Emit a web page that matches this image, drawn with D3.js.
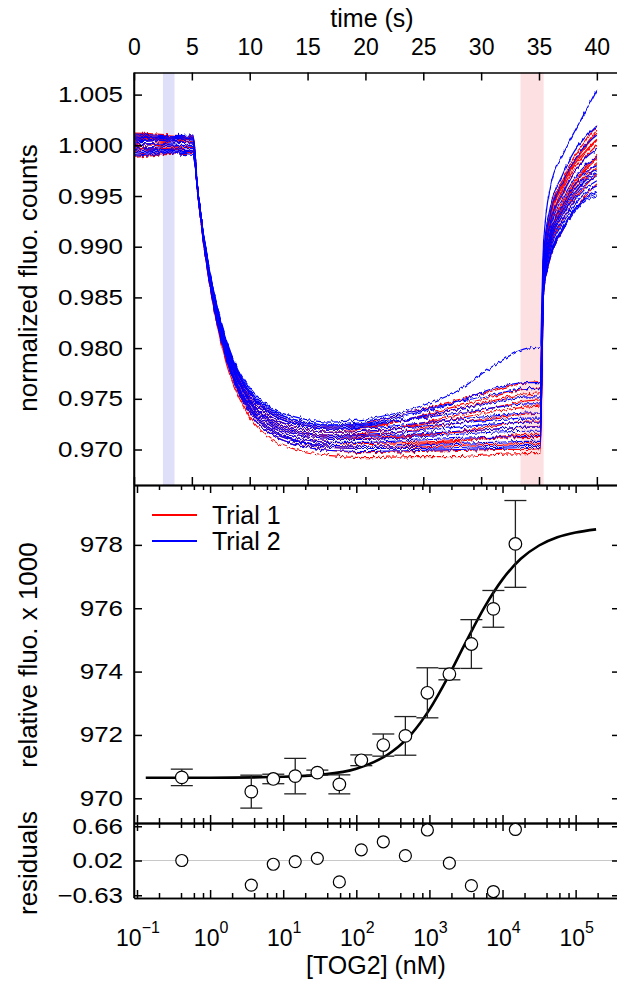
<!DOCTYPE html>
<html><head><meta charset="utf-8">
<script src="https://cdn.jsdelivr.net/npm/d3@7"></script>
<style>
body{margin:0;background:#fff}
svg{display:block}
text{font-family:"Liberation Sans",Arial,Helvetica,sans-serif;fill:#000}
</style>
</head><body>
<svg id="c" width="617" height="981"></svg>
<script>
// ---------------- DATA ----------------
// top panel: time traces (s) and normalized fluorescence counts
const traceTimes = [0, 5.1, 5.5, 6, 7, 8, 9, 10, 12, 14, 17, 20, 24, 28, 31, 34, 35.1, 35.4, 36, 37, 38, 39, 40];
const trial1Traces = [
  [1.0005,1.0002,.9953,.9904,.9832,.9784,.9753,.9732,.9709,.9700,.9694,.9692,.9693,.9693,.9695,.9696,.9696,.9855,.9890,.9915,.9935,.9950,.9962],
  [.9995,.9998,.9953,.9905,.9834,.9788,.9757,.9736,.9714,.9705,.9699,.9697,.9698,.9699,.9700,.9700,.9701,.9862,.9898,.9925,.9945,.9960,.9972],
  [1.0010,1.0006,.9954,.9906,.9836,.9790,.9759,.9739,.9717,.9708,.9702,.9701,.9702,.9704,.9705,.9706,.9706,.9866,.9903,.9930,.9950,.9966,.9978],
  [.9990,.9993,.9955,.9908,.9839,.9793,.9763,.9743,.9722,.9712,.9707,.9706,.9707,.9709,.9711,.9712,.9712,.9870,.9910,.9938,.9958,.9975,.9988],
  [1.0000,1.0004,.9955,.9909,.9841,.9797,.9767,.9748,.9726,.9717,.9712,.9711,.9714,.9717,.9720,.9722,.9723,.9874,.9915,.9943,.9963,.9978,.9990],
  [1.0008,1.0003,.9956,.9910,.9842,.9798,.9769,.9749,.9728,.9719,.9714,.9714,.9719,.9726,.9731,.9735,.9736,.9878,.9923,.9950,.9972,.9988,1.0000],
  [.9993,.9997,.9956,.9911,.9844,.9800,.9771,.9752,.9731,.9722,.9717,.9718,.9723,.9731,.9737,.9742,.9743,.9880,.9925,.9955,.9976,.9992,1.0005],
  [1.0003,1.0007,.9956,.9910,.9842,.9798,.9769,.9749,.9728,.9719,.9714,.9716,.9724,.9734,.9741,.9748,.9749,.9883,.9930,.9960,.9982,.9998,1.0012],
  [.9998,.9994,.9957,.9912,.9846,.9802,.9774,.9755,.9734,.9725,.9720,.9722,.9730,.9740,.9748,.9755,.9756,.9886,.9935,.9965,.9988,1.0004,1.0020],
  [1.0012,1.0008,.9956,.9911,.9844,.9800,.9771,.9752,.9731,.9722,.9717,.9721,.9731,.9743,.9752,.9760,.9761,.9888,.9933,.9962,.9984,1.0000,1.0015],
  [.9988,.9992,.9957,.9912,.9847,.9804,.9775,.9756,.9736,.9727,.9722,.9726,.9737,.9749,.9758,.9766,.9767,.9886,.9930,.9958,.9980,.9994,1.0006],
  [1.0001,.9997,.9955,.9909,.9840,.9795,.9766,.9746,.9724,.9715,.9710,.9710,.9713,.9718,.9723,.9728,.9728,.9872,.9913,.9940,.9960,.9976,.9986],
  [1.0006,1.0009,.9954,.9907,.9837,.9791,.9761,.9741,.9719,.9709,.9704,.9703,.9705,.9708,.9712,.9715,.9715,.9868,.9905,.9935,.9955,.9970,.9982]
];
const trial2Traces = [
  [1.0002,.9999,.9953,.9905,.9834,.9788,.9757,.9736,.9714,.9705,.9699,.9698,.9699,.9700,.9701,.9702,.9702,.9855,.9890,.9915,.9933,.9945,.9950],
  [.9991,.9995,.9954,.9907,.9837,.9791,.9761,.9741,.9719,.9709,.9704,.9703,.9704,.9706,.9707,.9708,.9708,.9858,.9893,.9918,.9936,.9948,.9955],
  [1.0009,1.0005,.9955,.9908,.9839,.9793,.9763,.9743,.9722,.9712,.9707,.9707,.9709,.9711,.9712,.9713,.9713,.9862,.9897,.9922,.9940,.9953,.9960],
  [.9996,1.0000,.9955,.9909,.9840,.9795,.9766,.9746,.9724,.9715,.9710,.9710,.9712,.9715,.9717,.9718,.9718,.9865,.9901,.9926,.9944,.9957,.9965],
  [1.0004,1.0008,.9955,.9909,.9841,.9797,.9767,.9748,.9726,.9717,.9712,.9713,.9715,.9718,.9720,.9722,.9722,.9867,.9905,.9930,.9948,.9962,.9970],
  [.9994,.9990,.9956,.9910,.9842,.9798,.9769,.9749,.9728,.9719,.9714,.9715,.9718,.9722,.9725,.9727,.9727,.9870,.9908,.9933,.9952,.9965,.9973],
  [1.0011,1.0007,.9956,.9911,.9844,.9800,.9771,.9752,.9731,.9722,.9717,.9718,.9722,.9726,.9729,.9731,.9731,.9872,.9911,.9936,.9955,.9968,.9976],
  [.9999,1.0003,.9957,.9912,.9846,.9802,.9774,.9755,.9734,.9725,.9720,.9721,.9725,.9730,.9733,.9736,.9736,.9876,.9915,.9940,.9960,.9973,.9980],
  [1.0006,1.0002,.9957,.9912,.9847,.9804,.9775,.9756,.9736,.9727,.9722,.9724,.9730,.9736,.9741,.9745,.9745,.9880,.9920,.9946,.9966,.9980,.9988],
  [.9989,.9993,.9957,.9912,.9846,.9802,.9774,.9755,.9734,.9725,.9720,.9723,.9731,.9740,.9746,.9752,.9752,.9884,.9925,.9952,.9972,.9987,.9996],
  [1.0003,1.0006,.9957,.9913,.9848,.9805,.9777,.9758,.9738,.9729,.9724,.9727,.9737,.9747,.9754,.9760,.9760,.9890,.9933,.9962,.9984,1.0000,1.0010],
  [.9997,.9993,.9957,.9913,.9848,.9805,.9777,.9758,.9738,.9729,.9724,.9725,.9735,.9747,.9760,.9766,.9766,.9895,.9940,.9970,.9993,1.0008,1.0020],
  [1.0007,1.0010,.9958,.9914,.9850,.9807,.9779,.9761,.9740,.9732,.9727,.9730,.9740,.9758,.9782,.9800,.9801,.9905,.9960,.9990,1.0012,1.0033,1.0055],
  [.9993,.9997,.9954,.9906,.9836,.9790,.9759,.9739,.9717,.9708,.9702,.9701,.9701,.9702,.9703,.9704,.9704,.9856,.9892,.9917,.9935,.9947,.9952]
];
const baselineWindow = [2.5, 3.5];   // s
const bindingWindow = [33.4, 35.4];  // s
const timeTicks = [0, 5, 10, 15, 20, 25, 30, 35, 40];
const normTicks = [0.970, 0.975, 0.980, 0.985, 0.990, 0.995, 1.000, 1.005];

// middle panel: titration
const concNM   = [0.41, 3.66, 7.32, 14.6, 29.3, 58.6, 117, 234, 469, 938, 1875, 3750, 7500, 15000];
const relFluo  = [970.66, 970.21, 970.61, 970.70, 970.81, 970.44, 971.20, 971.68, 971.97, 973.33, 973.92, 974.87, 975.98, 978.03];
const relErr   = [0.26, 0.52, 0.15, 0.56, 0.08, 0.30, 0.17, 0.35, 0.61, 0.79, 0.18, 0.77, 0.58, 1.37];
const residuals = [0.02, -0.44, -0.05, 0.00, 0.06, -0.38, 0.22, 0.37, 0.11, 0.59, -0.03, -0.45, -0.56, 0.60];
const fitLogConc = [-0.88, 0, 1, 1.5, 2, 2.5, 2.75, 3, 3.25, 3.5, 3.75, 4, 4.25, 4.5, 4.75, 5, 5.28];
const fitFluo    = [970.65, 970.65, 970.68, 970.74, 970.93, 971.49, 972.02, 972.80, 973.81, 974.94, 976.02, 976.91, 977.56, 977.98, 978.24, 978.39, 978.49];
const relTicks = [970, 972, 974, 976, 978];
const residTicks = [0.66, 0.02, -0.63];
const residLabels = ["0.66", "0.02", "\u22120.63"];
const decadeExps = [-1, 0, 1, 2, 3, 4, 5];
const minorMantissas = [2, 4, 6, 8];
const legendNames = ["Trial 1", "Trial 2"];
const trialColors = ["#ff0000", "#0000ff"];

// ---------------- LAYOUT ----------------
const svg = d3.select("#c");
const L = 134, R = 620, T1 = 72.5, B1 = 485, B2 = 823, B3 = 898;

const xT = d3.scaleLinear().domain([0, 42]).range([L, R]);
const yT = d3.scaleLinear().domain([0.9665, 1.00718]).range([B1, T1]);
const xC = d3.scaleLog().domain([Math.pow(10, -1.041), Math.pow(10, 5.607)]).range([L, R]);
const yM = d3.scaleLinear().domain([969.22, 979.89]).range([B2, B1]);
const yR = d3.scaleLinear().domain([-0.681, 0.721]).range([B3, B2]);

const majorConc = decadeExps.map(e => Math.pow(10, e));
const minorConc = [];
decadeExps.forEach(e => minorMantissas.forEach(m => {
  const v = m * Math.pow(10, e);
  if (v < xC.domain()[1]) minorConc.push(v);
}));

const defs = svg.append("defs");
defs.append("clipPath").attr("id", "clipTop")
  .append("rect").attr("x", L).attr("y", T1).attr("width", R - L).attr("height", B1 - T1);
// rendering texture only: jitters the drawn trace pixels vertically to mimic detector noise
const flt = defs.append("filter").attr("id", "grain").attr("x", "-2%").attr("y", "-5%")
  .attr("width", "104%").attr("height", "110%");
flt.append("feTurbulence").attr("type", "fractalNoise").attr("baseFrequency", "0.45 0.12")
  .attr("numOctaves", 1).attr("seed", 7).attr("result", "n");
flt.append("feColorMatrix").attr("in", "n").attr("type", "matrix")
  .attr("values", "0 0 0 0 0.5  0 1 0 0 0  0 0 0 0 0  0 0 0 0 1").attr("result", "m");
flt.append("feDisplacementMap").attr("in", "SourceGraphic").attr("in2", "m")
  .attr("scale", 7).attr("xChannelSelector", "R").attr("yChannelSelector", "G");

// ---------------- TOP PANEL ----------------
const gTop = svg.append("g");
gTop.append("rect").attr("x", xT(baselineWindow[0])).attr("y", T1)
  .attr("width", xT(baselineWindow[1]) - xT(baselineWindow[0])).attr("height", B1 - T1)
  .attr("fill", "#dfdff9");
gTop.append("rect").attr("x", xT(bindingWindow[0])).attr("y", T1)
  .attr("width", xT(bindingWindow[1]) - xT(bindingWindow[0])).attr("height", B1 - T1)
  .attr("fill", "#fde0e2");

const traceLine = d3.line().x((d, i) => xT(traceTimes[i])).y(d => yT(d)).curve(d3.curveMonotoneX);
const gTr = gTop.append("g").attr("clip-path", "url(#clipTop)").append("g").attr("filter", "url(#grain)");
[trial1Traces, trial2Traces].forEach((set, k) => {
  gTr.append("g").selectAll("path").data(set).join("path")
    .attr("d", traceLine).attr("fill", "none")
    .attr("stroke", trialColors[k]).attr("stroke-width", 1.2);
});

function styleAxis(g, fs) {
  g.attr("font-family", null).attr("font-size", fs);
  g.selectAll("path.domain").attr("stroke", "#000").attr("stroke-width", 1.5);
  g.selectAll(".tick line").attr("stroke", "#000").attr("stroke-width", 1.5);
  return g;
}

// top axis with labels
const axTop = svg.append("g").attr("transform", `translate(0,${T1})`)
  .call(d3.axisTop(xT).tickValues(timeTicks).tickSize(-8).tickSizeOuter(0).tickPadding(18).tickFormat(d3.format("d")));
styleAxis(axTop, 23);
// bottom of top panel
const axTopB = svg.append("g").attr("transform", `translate(0,${B1})`)
  .call(d3.axisBottom(xT).tickValues(timeTicks).tickSize(-8).tickSizeOuter(0).tickFormat(""));
styleAxis(axTopB, 10);
// left y
const axTopL = svg.append("g").attr("transform", `translate(${L},0)`)
  .call(d3.axisLeft(yT).tickValues(normTicks).tickSize(-8).tickSizeOuter(0).tickPadding(9.3).tickFormat(d3.format(".3f")));
styleAxis(axTopL, 22);
axTopL.selectAll(".tick text").attr("transform", "scale(1.18,1)");
const axTopR = svg.append("g").attr("transform", `translate(${R},0)`)
  .call(d3.axisRight(yT).tickValues(normTicks).tickSize(-8).tickSizeOuter(0).tickFormat(""));
styleAxis(axTopR, 10);

svg.append("text").attr("x", 372).attr("y", 27).attr("text-anchor", "middle")
  .attr("font-size", 25).text("time (s)");
svg.append("text").attr("transform", "translate(37,278) rotate(-90)").attr("text-anchor", "middle")
  .attr("font-size", 26).text("normalized fluo. counts");

// ---------------- MIDDLE PANEL ----------------
function logAxes(yPos, dir) {
  const mk = dir === "down" ? d3.axisTop : d3.axisBottom;
  [[majorConc, -8], [minorConc, -5]].forEach(([vals, sz]) => {
    const g = svg.append("g").attr("transform", `translate(0,${yPos})`)
      .call(mk(xC).tickValues(vals).tickSize(sz).tickSizeOuter(0).tickFormat(""));
    styleAxis(g, 10);
  });
}
logAxes(B1, "down");
logAxes(B2, "up");
const axMidL = svg.append("g").attr("transform", `translate(${L},0)`)
  .call(d3.axisLeft(yM).tickValues(relTicks).tickSize(-8).tickSizeOuter(0).tickPadding(9.3).tickFormat(d3.format("d")));
styleAxis(axMidL, 22);
axMidL.selectAll(".tick text").attr("transform", "scale(1.18,1)");
const axMidR = svg.append("g").attr("transform", `translate(${R},0)`)
  .call(d3.axisRight(yM).tickValues(relTicks).tickSize(-8).tickSizeOuter(0).tickFormat(""));
styleAxis(axMidR, 10);

// fit curve
const fitLine = d3.line().x((d, i) => xC(Math.pow(10, fitLogConc[i]))).y(d => yM(d)).curve(d3.curveMonotoneX);
svg.append("path").attr("d", fitLine(fitFluo)).attr("fill", "none").attr("stroke", "#000").attr("stroke-width", 2.6);

// error bars
const gErr = svg.append("g").attr("stroke", "#222").attr("stroke-width", 1.3);
concNM.forEach((c, i) => {
  const x = xC(c), y0 = yM(relFluo[i] - relErr[i]), y1 = yM(relFluo[i] + relErr[i]);
  gErr.append("line").attr("x1", x).attr("x2", x).attr("y1", y0).attr("y2", y1);
  gErr.append("line").attr("x1", x - 11).attr("x2", x + 11).attr("y1", y0).attr("y2", y0);
  gErr.append("line").attr("x1", x - 11).attr("x2", x + 11).attr("y1", y1).attr("y2", y1);
});
svg.append("g").selectAll("circle").data(relFluo).join("circle")
  .attr("cx", (d, i) => xC(concNM[i])).attr("cy", d => yM(d)).attr("r", 6.3)
  .attr("fill", "#fff").attr("stroke", "#000").attr("stroke-width", 1.2);

// legend
const gLeg = svg.append("g");
legendNames.forEach((n, i) => {
  const y = 515 + i * 26;
  gLeg.append("line").attr("x1", 152).attr("x2", 197).attr("y1", y).attr("y2", y)
    .attr("stroke", trialColors[i]).attr("stroke-width", 2);
  gLeg.append("text").attr("x", 212).attr("y", y + 9).attr("font-size", 25).text(n);
});

svg.append("text").attr("transform", "translate(37,655) rotate(-90)").attr("text-anchor", "middle")
  .attr("font-size", 26).text("relative fluo. x 1000");

// ---------------- RESIDUAL PANEL ----------------
svg.append("line").attr("x1", L).attr("x2", R).attr("y1", yR(0.02)).attr("y2", yR(0.02))
  .attr("stroke", "#c8c8c8").attr("stroke-width", 1);
logAxes(B2, "down");
logAxes(B3, "up");
const axResL = svg.append("g").attr("transform", `translate(${L},0)`)
  .call(d3.axisLeft(yR).tickValues(residTicks).tickSize(-8).tickSizeOuter(0).tickPadding(9.3)
    .tickFormat((d, i) => residLabels[i]));
styleAxis(axResL, 22);
axResL.selectAll(".tick text").attr("transform", "scale(1.18,1)");
const axResR = svg.append("g").attr("transform", `translate(${R},0)`)
  .call(d3.axisRight(yR).tickValues(residTicks).tickSize(-8).tickSizeOuter(0).tickFormat(""));
styleAxis(axResR, 10);
// left frame line through all panels
svg.append("line").attr("x1", L).attr("x2", L).attr("y1", T1).attr("y2", B3).attr("stroke", "#000").attr("stroke-width", 1.5);

svg.append("g").selectAll("circle").data(residuals).join("circle")
  .attr("cx", (d, i) => xC(concNM[i])).attr("cy", d => yR(d)).attr("r", 6)
  .attr("fill", "#fff").attr("stroke", "#000").attr("stroke-width", 1.2);

// log labels
const gLab = svg.append("g");
decadeExps.forEach(e => {
  const t = gLab.append("text").attr("x", xC(Math.pow(10, e)) + 1).attr("y", 946)
    .attr("text-anchor", "middle").attr("font-size", 23);
  t.append("tspan").text("10");
  t.append("tspan").attr("font-size", 16).attr("dy", -13).text(e < 0 ? "\u2212" + (-e) : String(e));
});

svg.append("text").attr("transform", "translate(37,863) rotate(-90)").attr("text-anchor", "middle")
  .attr("font-size", 26).text("residuals");
svg.append("text").attr("x", 376).attr("y", 974).attr("text-anchor", "middle")
  .attr("font-size", 25).text("[TOG2] (nM)");
</script>
</body></html>
